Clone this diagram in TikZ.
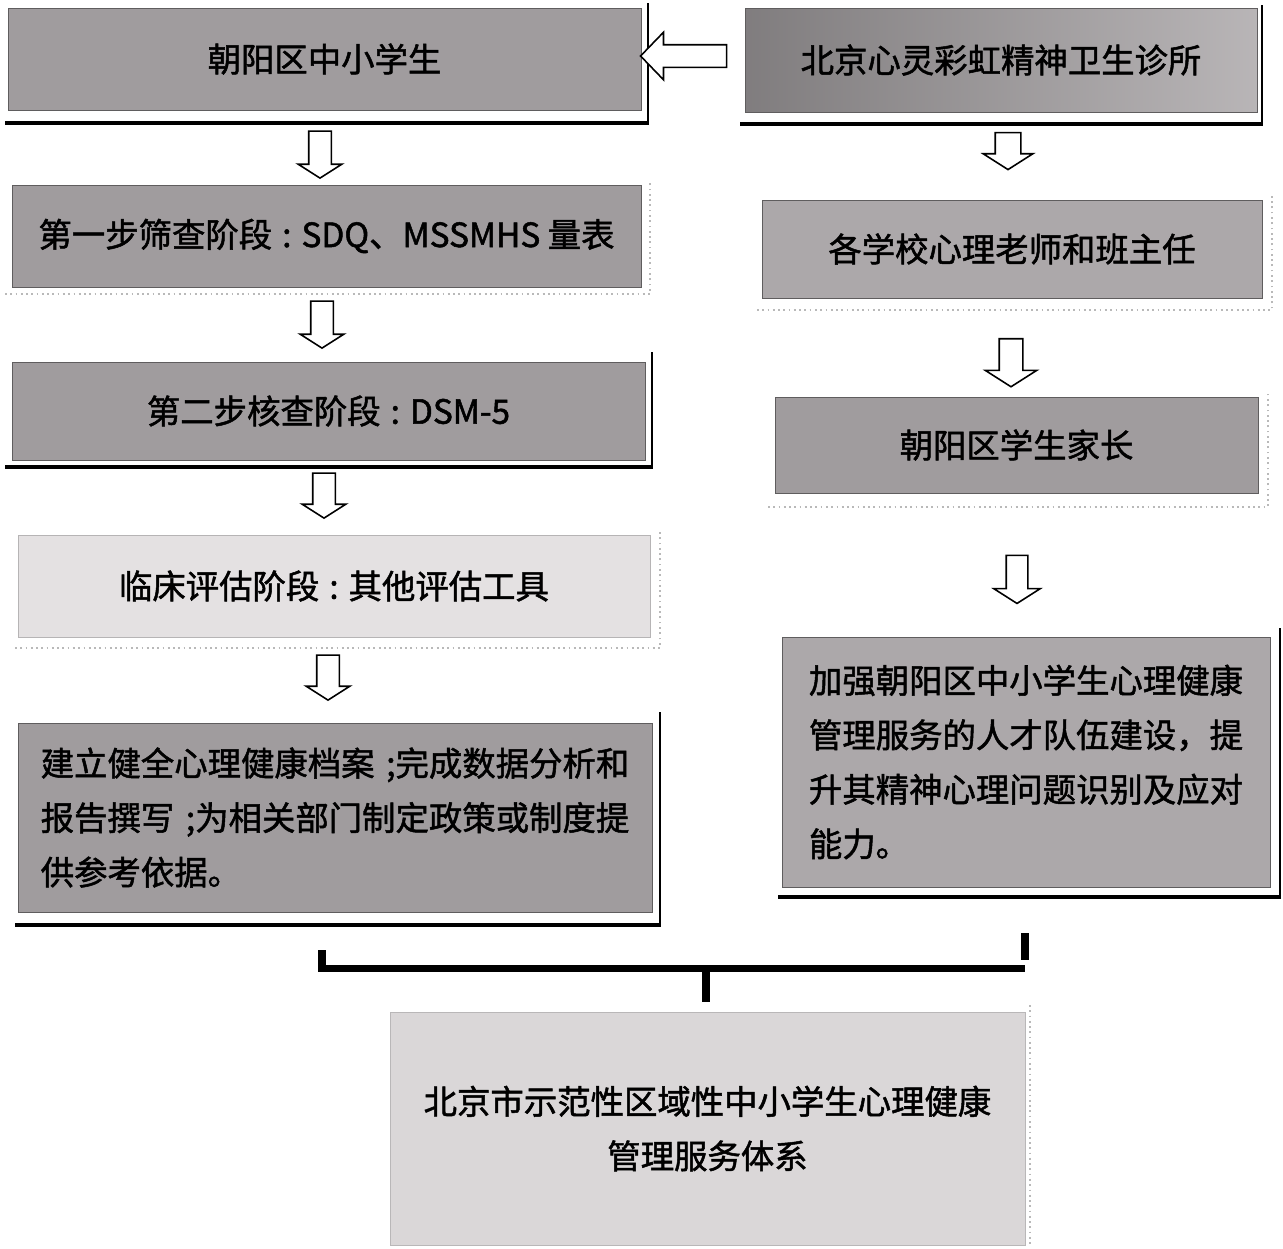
\documentclass[tikz,border=0pt]{standalone}
\usepackage{fontspec}
\setmainfont{Noto Sans CJK SC}[FakeBold=1.5]
\usetikzlibrary{shapes.arrows}

\definecolor{boxdark}{RGB}{160,156,158}
\definecolor{boxmid}{RGB}{172,168,170}
\definecolor{boxlight}{RGB}{228,225,226}
\definecolor{boxpale}{RGB}{218,215,216}
\definecolor{boxline}{RGB}{95,93,94}

\newcommand{\stcolon}{\hspace{0.3em}:\hspace{0.3em}}
\newcommand{\stsemi}{\hspace{0.35em};}

\tikzstyle{b} = [draw = boxline, fill = boxdark, line width = 0.5pt, inner sep = 0pt, font = \fontsize{19pt}{31pt}\selectfont]
\tikzstyle{bm} = [b, fill = boxmid]
\tikzstyle{bl} = [b, draw = boxlight!80!black, fill = boxlight]
\tikzstyle{bp} = [b, draw = boxpale!85!black, fill = boxpale]
\tikzstyle{dn} = [single arrow, draw = black, fill = white, line width = 0.9pt, rotate = -90, single arrow tip angle = 115, minimum height = 9.4mm, minimum width = 0pt, inner xsep = 0pt, inner ysep = 2.1mm, single arrow head extend = 2.1mm]
\tikzstyle{lf} = [single arrow, draw = black, fill = white, line width = 0.9pt, rotate = 180, single arrow tip angle = 92, minimum height = 17.2mm, minimum width = 0pt, inner xsep = 0pt, inner ysep = 2.1mm, single arrow head extend = 2.5mm]
\tikzstyle{rim} = [line width = 1pt]
\tikzstyle{sh} = [line width = 2.8pt]
\tikzstyle{dot} = [line width = 1pt, gray!55, dotted]
\tikzstyle{brace} = [line width = 4pt]

\begin{document}
\begin{tikzpicture}[x = 0.2mm, y = -0.2mm]
    \useasboundingbox [fill = white] (0,0) rectangle (1283,1248);

    % left column
    \node [b, minimum width = 126.6mm, minimum height = 20.4mm] (l1) at (324.5,59) {朝阳区中小学生};
    \node [b, minimum width = 125.8mm, minimum height = 20.4mm] (l2) at (326.5,236) {第一步筛查阶段\stcolon SDQ、MSSMHS 量表};
    \node [b, minimum width = 126.6mm, minimum height = 19.6mm] (l3) at (328.5,411) {第二步核查阶段\stcolon DSM-5};
    \node [bl, minimum width = 126.4mm, minimum height = 20.4mm] (l4) at (334,586) {临床评估阶段\stcolon 其他评估工具};
    \node [b, minimum width = 126.8mm, minimum height = 37.8mm, align = left] (l5) at (335,817.5)
        {建立健全心理健康档案\stsemi 完成数据分析和\\报告撰写\stsemi 为相关部门制定政策或制度提\\供参考依据。};

    % right column
    \node [b, draw = boxline, left color = boxdark!80!black, right color = boxmid!85!white, minimum width = 102.4mm, minimum height = 20.8mm] (r1) at (1001,60) {北京心灵彩虹精神卫生诊所};
    \node [bm, minimum width = 100mm, minimum height = 19.6mm] (r2) at (1012,249) {各学校心理老师和班主任};
    \node [b, minimum width = 96.6mm, minimum height = 19.2mm] (r3) at (1016.5,445) {朝阳区学生家长};
    \node [bm, minimum width = 97.6mm, minimum height = 50mm, align = left] (r4) at (1026,762)
        {加强朝阳区中小学生心理健康\\管理服务的人才队伍建设，提\\升其精神心理问题识别及应对\\能力。};

    % result
    \node [bp, minimum width = 127mm, minimum height = 46.6mm, align = center] (res) at (707.5,1128.5)
        {北京市示范性区域性中小学生心理健康\\管理服务体系};

    % frames
    \draw [rim] (648,3) -- (648,123);
    \draw [sh] (5,123) -- (649,123);
    \draw [dot] (5,294) -- (650,294) -- (650,180);
    \draw [rim] (652,352) -- (652,467);
    \draw [sh] (5,467) -- (653,467);
    \draw [dot] (15,648) -- (660,648) -- (660,530);
    \draw [rim] (660,712) -- (660,925);
    \draw [sh] (15,925) -- (661,925);
    \draw [rim] (1262,5) -- (1262,124);
    \draw [sh] (740,124) -- (1263,124);
    \draw [dot] (757,310) -- (1272,310) -- (1272,195);
    \draw [dot] (768,507) -- (1268,507) -- (1268,392);
    \draw [rim] (1280,628) -- (1280,897);
    \draw [sh] (778,897) -- (1281,897);
    \draw [dot] (1030,1005) -- (1030,1245);

    % arrows
    \node [lf] (a0) at (689,56) {};
    \node [dn] (a1) at (320,151) {};
    \node [dn] (a2) at (322,321) {};
    \node [dn, minimum height = 9mm] (a3) at (324,492) {};
    \node [dn, minimum height = 9mm] (a4) at (328,674) {};
    \node [dn, minimum height = 7.4mm, inner ysep = 2.4mm, single arrow head extend = 2.4mm] (a5) at (1008,147) {};
    \node [dn, minimum height = 9.6mm, inner ysep = 2.2mm, single arrow head extend = 2.8mm] (a6) at (1011,359) {};
    \node [dn, minimum height = 9.6mm, inner ysep = 2mm, single arrow head extend = 2.5mm] (a7) at (1017,576) {};

    % bracket
    \coordinate (jl) at (322,950);
    \coordinate (jm) at (706,968);
    \coordinate (jr) at (1025,933);
    \coordinate (js) at (706,1002);
    \draw [brace] (jl) -- (jl |- jm) -- (jr |- jm);
    \draw [brace] (jr) -- ++(0,27);
    \draw [brace] (jm) -- (js);
\end{tikzpicture}
\end{document}
